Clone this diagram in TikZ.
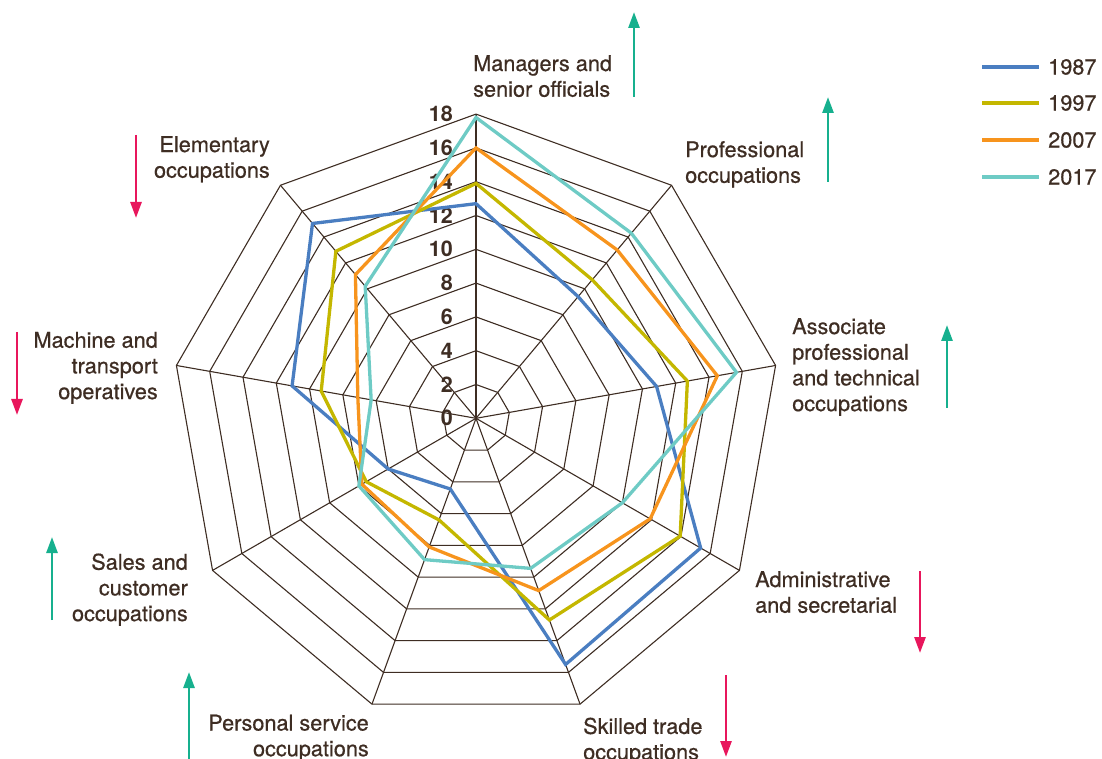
\documentclass[tikz,border=0pt]{standalone}
\usepackage{fontspec}
\setmainfont{TeX Gyre Heros}
\newfontfamily\labelfont{TeX Gyre Heros}[FakeBold=0.6]
\usepackage{tikz}
\usetikzlibrary{arrows.meta}
\definecolor{txtbrown}{RGB}{62,45,35}
\definecolor{c1987}{RGB}{74,126,193}
\definecolor{c1997}{RGB}{196,183,0}
\definecolor{c2007}{RGB}{247,148,29}
\definecolor{c2017}{RGB}{110,203,197}
\definecolor{upgreen}{RGB}{22,176,142}
\definecolor{downred}{RGB}{232,22,92}
\tikzset{grid line/.style={draw=txtbrown,line width=1.1pt},
  series/.style={line width=3.3pt},
  occ/.style={font=\labelfont\fontsize{21.7}{25.7}\selectfont,text=txtbrown,inner sep=0pt},
  num/.style={font=\fontsize{21.5}{25}\selectfont\bfseries,text=txtbrown,inner sep=0pt},
  up arrow/.style={draw=upgreen,line width=2.7pt,-{Triangle[width=11pt,length=16pt]}},
  down arrow/.style={draw=downred,line width=2.7pt,-{Triangle[width=11pt,length=16pt]}}}
\def\ustep{16.9}

\begin{document}
\begin{tikzpicture}[x=1pt,y=1pt]
   \useasboundingbox (0,0) rectangle (1102,758);

   % the web, 9 axes, rings every 2
   \begin{scope}[shift={(476,339.7)}]
   \coordinate (O) at (0,0);
   \foreach \r in {2,4,...,18}
      \draw[grid line] (90:\r*\ustep) \foreach \k in {1,...,8} { -- ({90-40*\k}:\r*\ustep) } -- cycle;
   \foreach \k in {0,...,8} {
      \coordinate (ax\k) at ({90-40*\k}:18*\ustep);
      \draw[grid line] (O) -- (ax\k);
   }
   \foreach \v in {0,2,...,18}
      \node[num,anchor=east] (n\v) at (-23,\v*\ustep) {\v};

   % series
   \draw[series,c1987] (90:12.7*\ustep) \foreach \v [count=\k] in {9.4,10.85,15.35,15.5,4.45,6.0,11.05,15.05} { -- ({90-40*\k}:\v*\ustep) } -- cycle;
   \draw[series,c1997] (90:13.9*\ustep) \foreach \v [count=\k] in {10.7,12.7,13.95,12.7,6.4,7.5,9.3,12.9} { -- ({90-40*\k}:\v*\ustep) } -- cycle;
   \draw[series,c2007] (90:16.0*\ustep) \foreach \v [count=\k] in {13.0,14.5,11.9,10.85,8.1,7.8,7.1,11.1} { -- ({90-40*\k}:\v*\ustep) } -- cycle;
   \draw[series,c2017] (90:17.8*\ustep) \foreach \v [count=\k] in {14.3,15.65,10.0,9.45,8.9,8.0,6.3,10.2} { -- ({90-40*\k}:\v*\ustep) } -- cycle;
   \end{scope}

   % occupation labels
   \node[occ,align=left,anchor=north west] (mgr) at (473,703) {Managers and\\senior officials};
   \node[occ,align=left,anchor=north west] (prof) at (685,617) {Professional\\occupations};
   \node[occ,align=left,anchor=north west] (assoc) at (792,440) {Associate\\professional\\and technical\\occupations};
   \node[occ,align=left,anchor=north west] (admin) at (755,187) {Administrative\\and secretarial};
   \node[occ,align=left,anchor=north west] (skill) at (583,40.5) {Skilled trade\\occupations};
   \node[occ,align=right,anchor=north east] (pers) at (369,43.5) {Personal service\\occupations};
   \node[occ,align=right,anchor=north east] (sales) at (188,204.7) {Sales and\\customer\\occupations};
   \node[occ,align=right,anchor=north east] (mach) at (158,426.3) {Machine and\\transport\\operatives};
   \node[occ,align=right,anchor=north east] (elem) at (270,622) {Elementary\\occupations};

   % trend arrows
   \coordinate (mgr-a) at (634,661);  \coordinate (mgr-b) at (634,746);
   \coordinate (prof-a) at (828,576); \coordinate (prof-b) at (828,661);
   \coordinate (assoc-a) at (947,350); \coordinate (assoc-b) at (947,433);
   \coordinate (sales-a) at (52,138); \coordinate (sales-b) at (52,221);
   \coordinate (pers-a) at (189,-2); \coordinate (pers-b) at (189,86);
   \coordinate (elem-a) at (136,623); \coordinate (elem-b) at (136,540);
   \coordinate (mach-a) at (17,426); \coordinate (mach-b) at (17,343);
   \coordinate (admin-a) at (920,187); \coordinate (admin-b) at (920,105);
   \coordinate (skill-a) at (726,83); \coordinate (skill-b) at (726,1);
   \foreach \o in {mgr,prof,assoc,sales,pers}
      \draw[up arrow] (\o-a) -- (\o-b);
   \foreach \o in {elem,mach,admin,skill}
      \draw[down arrow] (\o-a) -- (\o-b);

   % legend
   \foreach \yr/\yy in {1987/691,1997/655,2007/618,2017/581} {
      \coordinate (leg\yr-a) at (982,\yy);
      \coordinate (leg\yr-b) at (1039,\yy);
      \draw[series,c\yr] (leg\yr-a) -- (leg\yr-b);
      \node[occ,anchor=west] (leg\yr) at (1048,\yy) {\yr};
   }
\end{tikzpicture}
\end{document}
